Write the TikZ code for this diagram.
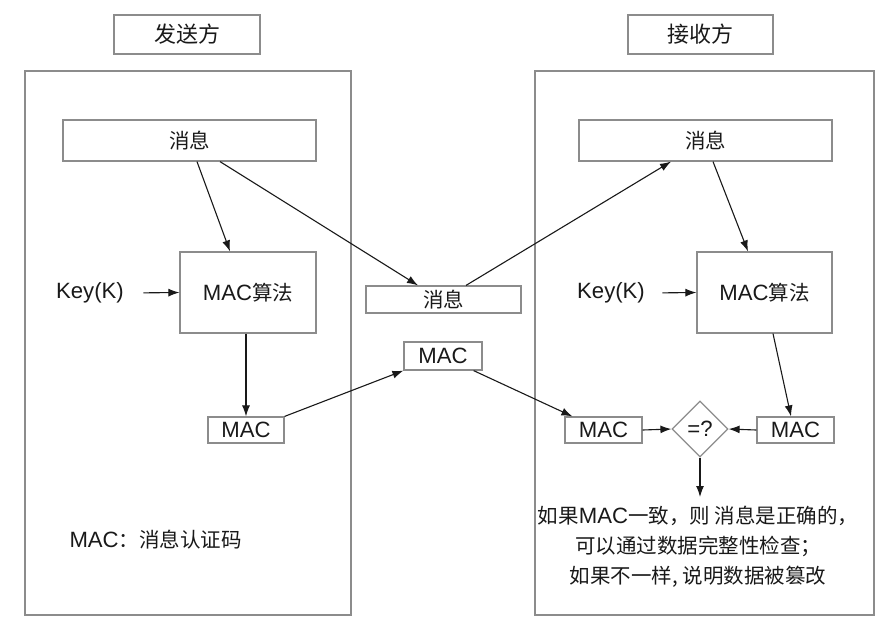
\documentclass[tikz,border=0pt]{standalone}
\usepackage{xcolor}
\definecolor{boxline}{rgb}{.55,.55,.55}
\definecolor{ink}{rgb}{.1,.1,.1}
\usepackage{fontspec}
\setmainfont{Noto Sans CJK SC}
\newfontfamily\latin[Scale=1.08]{Liberation Sans}
\usepackage{tikz}
\usetikzlibrary{arrows.meta, calc, shapes.geometric}
\tikzset{
    font={\fontsize{20.5pt}{30pt}\selectfont},
    box/.style={draw=boxline, line width=1.2pt, inner sep=0pt, text=ink},
    title/.style={box, font={\fontsize{22pt}{26pt}\selectfont}},
    flow/.style={-{Latex[length=11pt,width=8pt]}, line width=1.1pt, draw=ink},
    }

\begin{document}
\begin{tikzpicture}
    [x=1pt, y=-1pt]
    \useasboundingbox (0,0) rectangle (882,622);
    \draw[boxline, line width=1.2pt]
        (25,71) rectangle (351,615)
        (535,71) rectangle (874,615);
    % titles
    \node[title, minimum width=146pt, minimum height=39pt] (sender) at (187,34.5) {发送方};
    \node[title, minimum width=145pt, minimum height=39pt] (receiver) at (700.5,34.5) {接收方};
    % sender side
    \node[box, minimum width=253pt, minimum height=41pt] (smsg) at (189.5,140.5) {消息};
    \node[box, minimum width=136pt, minimum height=81pt] (salg) at (248,292.5) {{\latin MAC}算法};
    \node[box, minimum width=76pt, minimum height=26pt] (smac) at (246,430) {\latin MAC};
    \node[text=ink] (skey) at (90,293) {\latin Key(K)};
    \node[text=ink, anchor=west] (note) at (66,540) {{\latin MAC}：消息认证码};
    % channel
    \node[box, minimum width=155pt, minimum height=27pt] (mmsg) at (443.5,299.5) {消息};
    \node[box, minimum width=78pt, minimum height=28pt] (mmac) at (443,356) {\latin MAC};
    % receiver side
    \node[box, minimum width=253pt, minimum height=41pt] (rmsg) at (705.5,140.5) {消息};
    \node[box, minimum width=135pt, minimum height=81pt] (ralg) at (764.5,292.5) {{\latin MAC}算法};
    \node[text=ink] (rkey) at (611,293) {\latin Key(K)};
    \node[box, minimum width=77pt, minimum height=26pt] (rmac) at (603.5,430) {\latin MAC};
    \node[box, minimum width=77pt, minimum height=26pt] (cmac) at (795.5,430) {\latin MAC};
    \node[box, diamond, minimum width=56pt, minimum height=56pt] (check) at (700,429) {\latin =?};
    \coordinate (out) at (700,497);
    \node[text=ink, align=center] (result) at (698,547)
        {如果{\latin MAC}一致，则 消息是正确的，\\可以通过数据完整性检查；\\如果不一样, 说明数据被篡改};
    % arrows
    \draw[flow] ([xshift=7.5pt]smsg.south) -- ([xshift=-18pt]salg.north);
    \draw[flow] ([xshift=30.5pt]smsg.south) -- ([xshift=-25.5pt]mmsg.north);
    \draw[flow, shorten <=16pt] (skey.east) -- (salg.west);
    \draw[flow] (salg.south -| smac) -- (smac.north);
    \draw[flow] (smac.north east) -- (mmac.south west);
    \draw[flow] ([xshift=22.5pt]mmsg.north) -- ([xshift=-34.5pt]rmsg.south);
    \draw[flow] ([xshift=7.5pt]rmsg.south) -- ([xshift=-16.5pt]ralg.north);
    \draw[flow, shorten <=14pt] (rkey.east) -- (ralg.west);
    \draw[flow] ([xshift=8.5pt]ralg.south) -- ([xshift=-4.5pt]cmac.north);
    \draw[flow] ([xshift=-9pt]mmac.south east) -- ([xshift=8pt]rmac.north west);
    \draw[flow] (rmac.east) -- (check.west);
    \draw[flow] (cmac.west) -- (check.east);
    \draw[flow] (check.south) -- (out);
\end{tikzpicture}
\end{document}
